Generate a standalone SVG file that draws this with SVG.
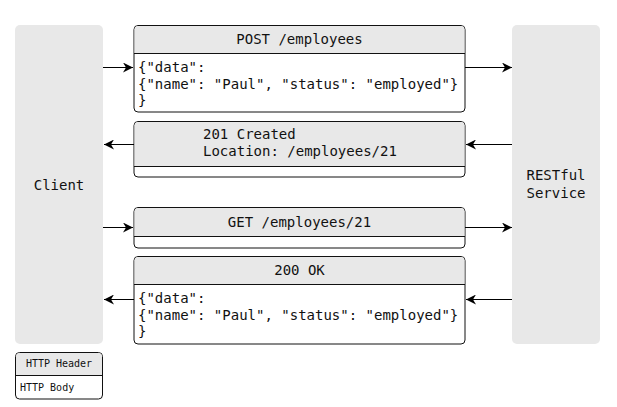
<svg xmlns="http://www.w3.org/2000/svg" width="617" height="407" viewBox="0 0 617 407">
<defs>
<style>
.lane{fill:#e8e8e8;stroke:none}
.box{fill:#ffffff;stroke:#111;stroke-width:1}
.hdr{fill:#e8e8e8;stroke:none}
.div{stroke:#111;stroke-width:1}
.t{font-family:"DejaVu Sans Mono","Liberation Mono",monospace;font-size:14px;fill:#111}
.s{font-family:"DejaVu Sans Mono","Liberation Mono",monospace;font-size:10px;fill:#111}
.c{stroke:#000;stroke-width:1;fill:none;marker-end:url(#ah)}
</style>
<marker id="ah" viewBox="0 0 10 10" refX="10" refY="5" markerWidth="10" markerHeight="10" markerUnits="userSpaceOnUse" orient="auto">
<path d="M0,0 L10,5 L0,10 L3,5 Z" fill="#000"/>
</marker>
</defs>
<rect width="617" height="407" fill="#fff"/>
<g id="client">
<rect class="lane" x="15" y="25" width="88" height="319" rx="5"/>
<text class="t" x="59" y="190" text-anchor="middle">Client</text>
</g>
<g id="service">
<rect class="lane" x="512" y="25" width="88" height="319" rx="5"/>
<text class="t" x="556" y="180" text-anchor="middle">RESTful</text>
<text class="t" x="556" y="198" text-anchor="middle">Service</text>
</g>
<g id="post">
<rect class="box" x="134" y="25.500" width="331" height="86.5" rx="4"/>
<path class="hdr" d="M138,26 H461 A3.500,3.500 0 0 1 464.500,29.500 V53 H134.500 V29.500 A3.500,3.500 0 0 1 138,26 Z"/>
<line class="div" x1="134" y1="53.500" x2="465" y2="53.500"/>
<text class="t" x="299.500" y="44" text-anchor="middle">POST /employees</text>
<text class="t" x="138" y="72">{"data":</text>
<text class="t" x="138" y="89">{"name": "Paul", "status": "employed"}</text>
<text class="t" x="138" y="105">}</text>
</g>
<g id="created">
<rect class="box" x="134" y="121.500" width="331" height="55.5" rx="4"/>
<path class="hdr" d="M138,122 H461 A3.500,3.500 0 0 1 464.500,125.500 V166 H134.500 V125.500 A3.500,3.500 0 0 1 138,122 Z"/>
<line class="div" x1="134" y1="166.500" x2="465" y2="166.500"/>
<text class="t" x="203" y="139">201 Created</text>
<text class="t" x="203" y="156">Location: /employees/21</text>
</g>
<g id="get">
<rect class="box" x="134" y="207.500" width="331" height="40.5" rx="4"/>
<path class="hdr" d="M138,208 H461 A3.500,3.500 0 0 1 464.500,211.500 V236 H134.500 V211.500 A3.500,3.500 0 0 1 138,208 Z"/>
<line class="div" x1="134" y1="236.500" x2="465" y2="236.500"/>
<text class="t" x="299.500" y="227" text-anchor="middle">GET /employees/21</text>
</g>
<g id="ok">
<rect class="box" x="134" y="256.500" width="331" height="87.5" rx="4"/>
<path class="hdr" d="M138,257 H461 A3.500,3.500 0 0 1 464.500,260.500 V284 H134.500 V260.500 A3.500,3.500 0 0 1 138,257 Z"/>
<line class="div" x1="134" y1="284.500" x2="465" y2="284.500"/>
<text class="t" x="299.500" y="275" text-anchor="middle">200 OK</text>
<text class="t" x="138" y="303">{"data":</text>
<text class="t" x="138" y="320">{"name": "Paul", "status": "employed"}</text>
<text class="t" x="138" y="336">}</text>
</g>
<g id="legend">
<rect class="box" x="15.500" y="352.500" width="87" height="46.5" rx="4"/>
<path class="hdr" d="M19.500,353 H98.500 A3.500,3.500 0 0 1 102,356.500 V375 H16 V356.500 A3.500,3.500 0 0 1 19.500,353 Z"/>
<line class="div" x1="15.500" y1="375.500" x2="102.500" y2="375.500"/>
<text class="s" x="59" y="367" text-anchor="middle">HTTP Header</text>
<text class="s" x="20" y="391">HTTP Body</text>
</g>
<g id="connectors">
<line class="c" x1="103" y1="67.500" x2="133" y2="67.500"/>
<line class="c" x1="465" y1="67.500" x2="512" y2="67.500"/>
<line class="c" x1="512" y1="144.500" x2="466" y2="144.500"/>
<line class="c" x1="134" y1="144.500" x2="104" y2="144.500"/>
<line class="c" x1="103" y1="227.500" x2="133" y2="227.500"/>
<line class="c" x1="465" y1="227.500" x2="512" y2="227.500"/>
<line class="c" x1="512" y1="299.500" x2="466" y2="299.500"/>
<line class="c" x1="134" y1="299.500" x2="104" y2="299.500"/>
</g>
</svg>
